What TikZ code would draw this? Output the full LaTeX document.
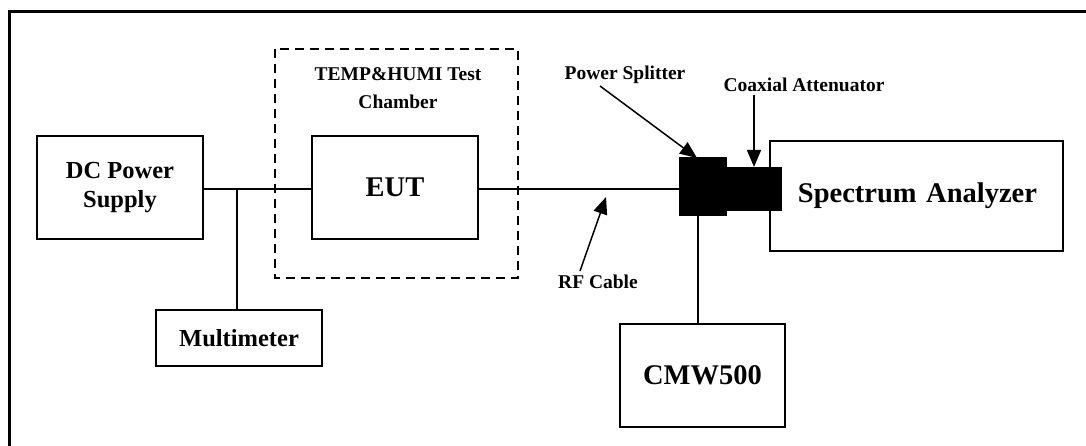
\documentclass[tikz,border=0pt]{standalone}
\usepackage{fontspec}
\setmainfont{Liberation Serif}
\usetikzlibrary{arrows.meta}
\tikzset{
  box/.style={draw, line width=1.5pt, inner sep=0pt, font=\bfseries},
  blk/.style={fill=black, draw=black, line width=1pt, inner sep=0pt},
  wire/.style={line width=1.5pt},
  lbl/.style={font=\fontsize{19.5}{22}\selectfont\bfseries, inner sep=0pt, align=center},
  pointer/.style={line width=1.5pt, -{Triangle[length=17pt,width=14pt]}},
  midtxt/.style={font=\fontsize{24.5}{29}\selectfont\bfseries, align=center},
  bigtxt/.style={font=\fontsize{28.5}{33}\selectfont\bfseries, align=center},
}
\begin{document}
\begin{tikzpicture}[x=1pt,y=-1pt]
\useasboundingbox (0,0) rectangle (1086,446);
% outer frame (only top and left visible)
\draw[line width=3pt] (9.5,447) -- (9.5,12) -- (1087,12);
% dashed chamber
\draw[line width=1.5pt, dash pattern=on 9pt off 6pt] (275,49) rectangle (518,278);
\node[lbl] (chlbl) at (398,88) {TEMP\&HUMI Test\\[6pt]Chamber};
% boxes
\node[box, midtxt, minimum width=166pt, minimum height=103pt] (dc) at (120,187.5) {DC Power\\Supply};
\node[box, bigtxt, minimum width=166pt, minimum height=103pt] (eut) at (395,187.5) {EUT};
\node[box, midtxt, minimum width=166pt, minimum height=56pt] (mm) at (239,338) {Multimeter};
\node[box, bigtxt, minimum width=293pt, minimum height=110pt, text width=290pt, align=center] (sa) at (916.5,196) {\hspace*{2pt}Spectrum Analyzer};
\node[box, bigtxt, minimum width=165pt, minimum height=103pt] (cmw) at (702.5,375.5) {CMW500};
% splitter and attenuator
\node[blk, minimum width=55pt, minimum height=43pt] (att) at (754,189.5) {};
\node[blk, minimum width=47pt, minimum height=58pt] (spl) at (702.5,187) {};
% wires
\coordinate (j) at (237,189);
\draw[wire] (dc.east |- j) -- (eut.west |- j);
\draw[wire] (j) -- (j |- mm.north);
\draw[wire] (eut.east |- j) -- (spl.west |- j);
\draw[wire] (698,216) -- (698,324);
% labels and pointers
\node[lbl] (pslbl) at (625,75) {Power Splitter};
\node[lbl] (calbl) at (804,85) {Coaxial Attenuator};
\node[lbl] (rflbl) at (598,282) {RF Cable};
\coordinate (pstip) at (697,158);
\coordinate (catip) at (754,167);
\coordinate (rftip) at (606,197);
\draw[pointer] (600,86) -- (pstip);
\draw[pointer] (754,95) -- (catip);
\draw[pointer] (580,271) -- (rftip);
\end{tikzpicture}
\end{document}
